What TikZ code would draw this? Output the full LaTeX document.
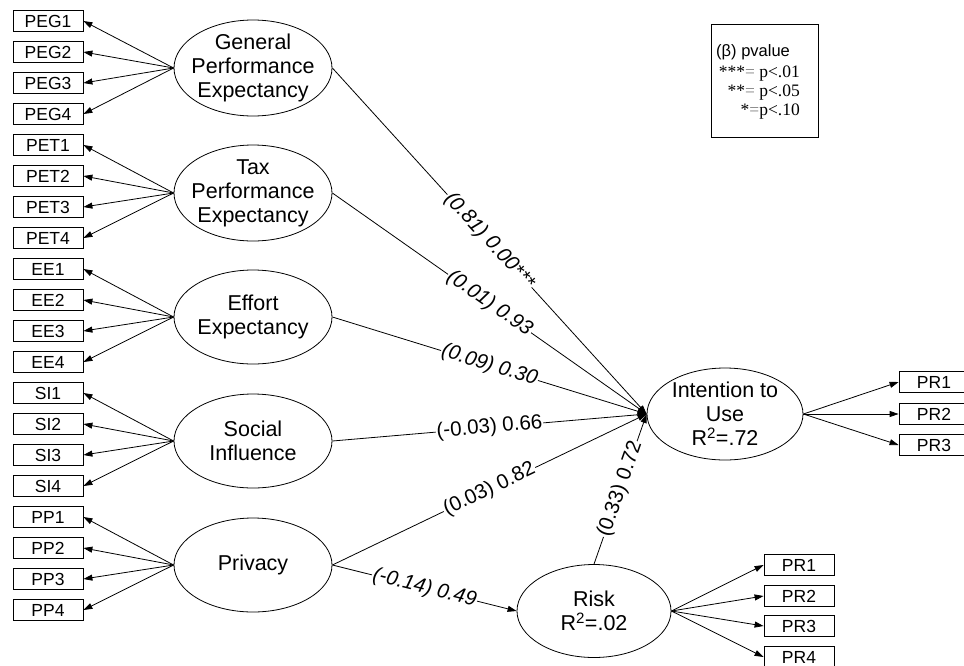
\documentclass[tikz,border=0pt]{standalone}
\usepackage{fontspec}
\setmainfont{Liberation Sans}
\newfontfamily\timesf{Liberation Serif}
\usetikzlibrary{shapes.geometric,arrows.meta}
\begin{document}
\begin{tikzpicture}[x=1pt,y=-1pt,
  ind/.style={draw,line width=0.8pt,minimum width=70pt,minimum height=21pt,inner sep=0pt,font=\fontsize{17.5}{17.5}\selectfont},
  lat/.style={draw,ellipse,line width=0.8pt,inner sep=0pt},
  ltxt/.style={align=center,inner sep=0pt,font=\fontsize{21.5}{24}\selectfont},
  arr/.style={line width=0.8pt,-{Triangle[length=9pt,width=6pt]}},
  elab/.style={midway,sloped,fill=white,inner sep=1pt,font=\fontsize{20.5}{20.5}\selectfont},
  elabi/.style={elab,font=\fontsize{20.5}{20.5}\selectfont\itshape}
]
\useasboundingbox (0,0) rectangle (964,665);

% indicator boxes (left column)
\foreach \n [count=\i from 0] in {PEG1,PEG2,PEG3,PEG4,PET1,PET2,PET3,PET4,EE1,EE2,EE3,EE4,SI1,SI2,SI3,SI4,PP1,PP2,PP3,PP4}
  \node[ind] (\n) at (48,{21+31*\i}) {\n};

% latent variables
\node[lat,minimum width=158pt,minimum height=96pt] (GPE) at (253,68) {};
\node[ltxt] (GPEt) at (GPE) {General\\Performance\\Expectancy};
\node[lat,minimum width=158pt,minimum height=96pt] (TPE) at (253,193) {};
\node[ltxt] (TPEt) at (TPE) {Tax\\Performance\\Expectancy};
\node[lat,minimum width=158pt,minimum height=94pt] (EE) at (253,317) {};
\node[ltxt] (EEt) at (EE) {Effort\\Expectancy};
\node[lat,minimum width=158pt,minimum height=94pt] (SI) at (253,441) {};
\node[ltxt] (SIt) at (SI) {Social\\Influence};
\node[lat,minimum width=158pt,minimum height=94pt] (PP) at (253,565) {};
\node[ltxt] (PPt) at (PP) {Privacy};

\node[lat,minimum width=156pt,minimum height=92pt] (INT) at (725,414) {};
\node[ltxt] (INTt) at (INT) {Intention to\\Use\\R\textsuperscript{2}=.72};
\node[lat,minimum width=154pt,minimum height=93pt] (RISK) at (594,611) {};
\node[ltxt] (RISKt) at (RISK) {Risk\\R\textsuperscript{2}=.02};

% right indicator boxes
\foreach \n/\y in {IPR1/382,IPR2/414,IPR3/445}
  \node[ind] (\n) at (934,\y) {};
\node[font=\fontsize{17.5}{17.5}\selectfont] (IPR1t) at (IPR1) {PR1};
\node[font=\fontsize{17.5}{17.5}\selectfont] (IPR2t) at (IPR2) {PR2};
\node[font=\fontsize{17.5}{17.5}\selectfont] (IPR3t) at (IPR3) {PR3};
\node[ind] (RPR1) at (799,565) {PR1};
\node[ind] (RPR2) at (799,596) {PR2};
\node[ind] (RPR3) at (799,626) {PR3};
\node[ind] (RPR4) at (799,657) {PR4};

% loadings
\foreach \l/\bs in {GPE/{PEG1,PEG2,PEG3,PEG4},TPE/{PET1,PET2,PET3,PET4},EE/{EE1,EE2,EE3,EE4},SI/{SI1,SI2,SI3,SI4},PP/{PP1,PP2,PP3,PP4}}
  \foreach \b in \bs
    \draw[arr] (\l.west) -- (\b.east);
\foreach \b in {IPR1,IPR2,IPR3}
  \draw[arr] (INT.east) -- (\b.west);
\foreach \b in {RPR1,RPR2,RPR3,RPR4}
  \draw[arr] (RISK.east) -- (\b.west);

% structural paths
\draw[arr] (GPE.east) -- node[elabi] {(0.81) 0.00***} (INT.west);
\draw[arr] (TPE.east) -- node[elabi] {(0.01) 0.93} (INT.west);
\draw[arr] (EE.east) -- node[elabi] {(0.09) 0.30} (INT.west);
\draw[arr] (SI.east) -- node[elab] {(-0.03) 0.66} (INT.west);
\draw[arr] (PP.east) -- node[elab] {(0.03) 0.82} (INT.west);
\draw[arr] (PP.east) -- node[elabi] {(-0.14) 0.49} (RISK.west);
\draw[arr] (RISK.north) -- node[elab] {(0.33) 0.72} (INT.west);

% legend
\node[draw,line width=0.8pt,minimum width=107pt,minimum height=113pt,inner sep=0pt] (leg) at (764.5,80.5) {};
\node[anchor=base west,inner sep=0pt,font=\fontsize{16.5}{16.5}\selectfont] (legh) at (716,56) {(β) pvalue};
\node[anchor=base east,inner sep=0pt,font=\timesf\fontsize{17.5}{17.5}\selectfont] (leg1) at (800,77) {***{\color{gray}=} p<.01};
\node[anchor=base east,inner sep=0pt,font=\timesf\fontsize{17.5}{17.5}\selectfont] (leg2) at (800,96) {**{\color{gray}=} p<.05};
\node[anchor=base east,inner sep=0pt,font=\timesf\fontsize{17.5}{17.5}\selectfont] (leg3) at (800,115) {*{\color{gray}=}p<.10};
\end{tikzpicture}
\end{document}
